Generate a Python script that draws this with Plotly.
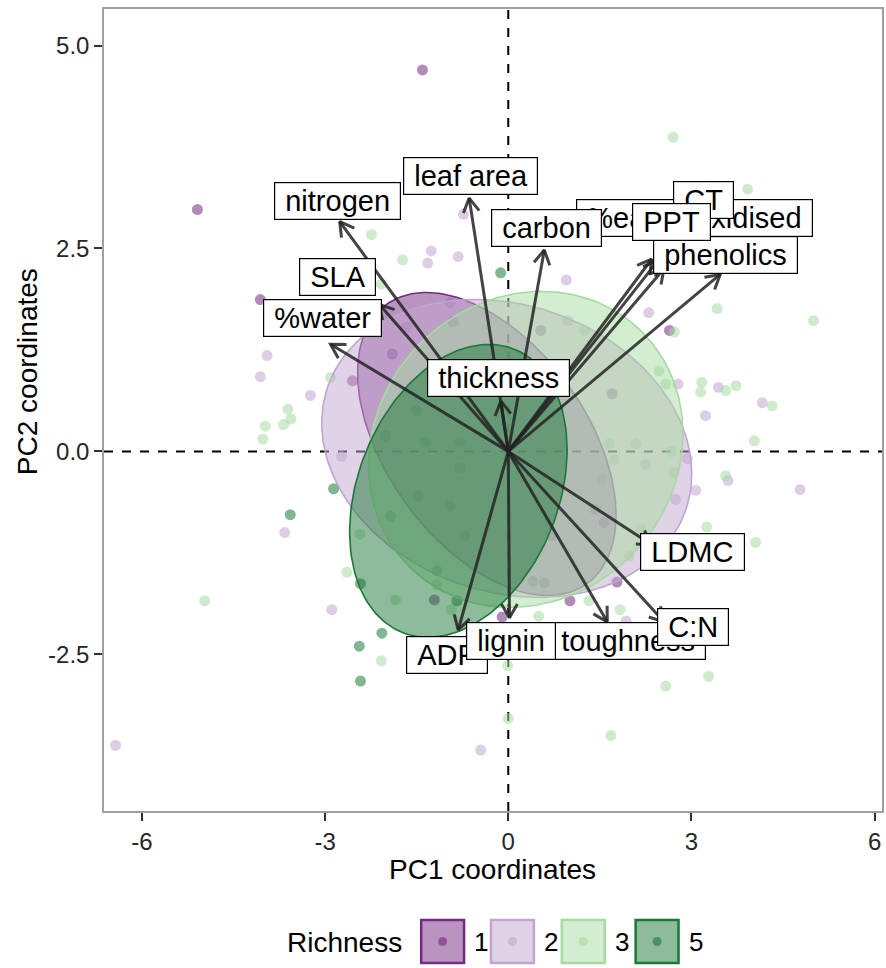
import numpy as np
import plotly.graph_objects as go

# ---------------- data ----------------
richness = ["1", "2", "3", "5"]
colors = ["#762a83", "#c2a5cf", "#a6dba0", "#1b7837"]

g1_x = [-1.405, -5.09, -4.06, 2.64, 1.78, 1.01, -0.10, -1.21, -2.55, -1.9, -1.5, 0.53, 1.57, 1.42, 1.70, 0.72, -0.9]
g1_y = [4.70, 2.98, 1.87, 1.49, -1.61, -1.84, -2.04, -1.83, 0.87, 1.2, 0.5, 1.49, -0.88, -0.71, 0.71, -1.04, 1.6]

g2_x = [-0.735, -1.26, -1.32, -0.82, -3.95, -4.06, -3.24, 0.95, 2.30, 2.78, 3.44, 4.16, 3.23, 3.60, 4.78,
        3.07, 2.74, 2.93, 1.93, -2.73, -3.66, -2.89, -6.43, -0.45, -1.67, -0.95, 0.98, 1.54, 2.25]
g2_y = [2.92, 2.47, 2.32, 2.40, 1.18, 0.92, 0.69, 2.11, 1.71, 0.83, 0.79, 0.60, 0.44, -0.36, -0.47,
        -0.48, -0.59, -0.09, -2.09, -0.06, -1.00, -1.95, -3.62, -3.68, 1.53, 1.83, 1.61, -0.34, -0.16]

g3_x = [-2.24, -1.73, -2.08, -2.91, 2.70, 3.92, 3.42, 2.72, 5.00, 3.17, 3.15, 3.56, 3.73, 4.32, 4.03, 3.56,
        3.25, 4.05, 1.32, 1.83, 0.50, 3.28, 2.58, 1.68, 0.00, -0.01, -3.61, -3.98, -3.68, -3.56, -4.02,
        -4.97, -2.64, -2.08, -1.85, -1.17, -0.93, -2.43, 2.71, 2.67, 1.65, 2.17, 1.98, 2.47, 2.58, 1.25,
        2.09, 1.73]
g3_y = [2.67, 2.36, 2.06, 0.91, 3.87, 3.23, 1.76, 1.47, 1.61, 0.85, 0.73, 0.75, 0.81, 0.56, 0.13, -0.30,
        -0.93, -1.12, -1.84, -1.95, -2.03, -2.77, -2.89, -3.50, -3.29, -2.64, 0.52, 0.31, 0.33, 0.40, 0.15,
        -1.84, -1.49, -2.58, -1.83, -1.64, -1.95, -1.02, -0.26, 0.00, 0.09, -0.96, -1.29, 0.99, 0.83, 1.49,
        0.09, -0.10]

g5_x = [-0.125, -2.86, -3.57, -2.42, -2.07, -2.44, -2.42, -1.17, -1.93, -1.47, -0.95, -0.79, -1.36, -0.79,
        -0.71, 0.40, 0.59, -0.84, -2.01]
g5_y = [2.20, -0.46, -0.78, -1.63, -2.24, -2.40, -2.83, -1.47, -0.80, -0.55, -0.67, -0.20, 0.11, 0.11,
        -1.04, -1.60, -1.62, -1.84, 0.19]

pts_x = [g1_x, g2_x, g3_x, g5_x]
pts_y = [g1_y, g2_y, g3_y, g5_y]

# confidence ellipses: centre, half-width, half-height, correlation
ell_cx = [-0.351, -0.025, 0.286, -0.817]
ell_cy = [0.092, 0.037, 0.025, -0.486]
ell_hx = [2.116, 3.03, 2.574, 1.781]
ell_hy = [1.866, 1.835, 1.946, 1.804]
ell_r = [-0.47, -0.17, 0.10, 0.28]

# variable loadings (arrow tips) and label positions
var_names = ["ADP", "toughness", "lignin", "C:N", "LDMC", "thickness", "SLA", "%water", "nitrogen",
             "leaf area", "%easily oxidised", "phenolics", "CT", "PPT", "carbon"]
var_x = [-0.82, 1.62, 0.02, 2.55, 2.35, -0.12, -2.11, -2.91, -2.76, -0.64, 2.55, 3.47, 2.45, 2.35, 0.59]
var_y = [-2.20, -2.10, -2.05, -2.10, -1.15, 0.62, 1.81, 1.32, 2.83, 3.12, 2.25, 2.18, 2.35, 2.37, 2.48]
lab_x = [-1.01, 1.96, 0.05, 3.03, 3.01, -0.155, -2.79, -3.04, -2.80, -0.62, 3.056, 3.55, 3.19, 2.68, 0.62]
lab_y = [-2.51, -2.34, -2.34, -2.16, -1.24, 0.905, 2.15, 1.64, 3.08, 3.39, 2.876, 2.42, 3.10, 2.82, 2.75]

x_ticks = [-6, -3, 0, 3, 6]
y_ticks = [5.0, 2.5, 0.0, -2.5]
y_ticklabels = ["5.0", "2.5", "0.0", "-2.5"]

# ---------------- layout constants ----------------
W, H = 886, 968
ML, MR, MT, MB = 104, 2, 9, 157
XR = [-6.62, 6.12]
YR = [-4.43, 5.45]
PW, PH = W - ML - MR, H - MT - MB
sx = PW / (XR[1] - XR[0])
sy = PH / (YR[1] - YR[0])
FONT = "Liberation Sans, Arial, sans-serif"


def rgba(hexc, a):
    h = hexc.lstrip("#")
    return "rgba(%d,%d,%d,%.3f)" % (int(h[0:2], 16), int(h[2:4], 16), int(h[4:6], 16), a)


def px2paper_x(px):
    return (px - ML) / PW


def px2paper_y(py):
    return (MT + PH - py) / PH


fig = go.Figure()

# points
for i, g in enumerate(richness):
    fig.add_trace(go.Scatter(
        x=pts_x[i], y=pts_y[i], mode="markers",
        marker=dict(size=11, color=rgba(colors[i], 0.55), line=dict(width=0)),
        showlegend=False, hoverinfo="skip"))

# ellipses
t = np.linspace(0, 2 * np.pi, 200)
for i, g in enumerate(richness):
    ex = ell_cx[i] + ell_hx[i] * np.cos(t)
    ey = ell_cy[i] + ell_hy[i] * (ell_r[i] * np.cos(t) + np.sqrt(1 - ell_r[i] ** 2) * np.sin(t))
    fig.add_trace(go.Scatter(
        x=ex, y=ey, mode="lines", fill="toself",
        fillcolor=rgba(colors[i], 0.5), line=dict(color=colors[i], width=1.6),
        showlegend=False, hoverinfo="skip"))

# arrows
ax_lines, ay_lines = [], []
L = 16.0
ang = np.deg2rad(30)
for vx, vy in zip(var_x, var_y):
    ax_lines += [0, vx, None]
    ay_lines += [0, vy, None]
    px, py = vx * sx, vy * sy
    n = np.hypot(px, py)
    ux, uy = px / n, py / n
    bxs, bys = [], []
    for s in (ang, -ang):
        rx = ux * np.cos(s) - uy * np.sin(s)
        ry = ux * np.sin(s) + uy * np.cos(s)
        bxs.append((px - L * rx) / sx)
        bys.append((py - L * ry) / sy)
    ax_lines += [bxs[0], vx, bxs[1], None]
    ay_lines += [bys[0], vy, bys[1], None]
fig.add_trace(go.Scatter(x=ax_lines, y=ay_lines, mode="lines",
                         line=dict(color="rgba(35,35,35,0.85)", width=3),
                         showlegend=False, hoverinfo="skip"))

# labels
for name, lx, ly in zip(var_names, lab_x, lab_y):
    fig.add_annotation(x=lx, y=ly, text="\u00a0" + name + "\u00a0", showarrow=False,
                       font=dict(family=FONT, size=29, color="black"),
                       bgcolor="white", bordercolor="black", borderwidth=1.2, borderpad=2)

# reference lines
fig.add_shape(type="line", x0=0, x1=0, y0=YR[0], y1=YR[1], layer="below",
              line=dict(color="black", width=2, dash="dash"))
fig.add_shape(type="line", x0=XR[0], x1=XR[1], y0=0, y1=0, layer="below",
              line=dict(color="black", width=2, dash="dash"))

# legend (ggplot-style keys)
key_left = [422, 492, 563, 637]
key_top, key_size = 920, 43
fig.add_annotation(xref="paper", yref="paper", x=px2paper_x(405), y=px2paper_y(942),
                   xanchor="right", yanchor="middle", text="Richness", showarrow=False,
                   font=dict(family=FONT, size=28, color="black"))
for i, g in enumerate(richness):
    x0, x1 = key_left[i], key_left[i] + key_size
    fig.add_shape(type="rect", xref="paper", yref="paper",
                  x0=px2paper_x(x0), x1=px2paper_x(x1),
                  y0=px2paper_y(key_top + key_size), y1=px2paper_y(key_top),
                  fillcolor=rgba(colors[i], 0.5), line=dict(color=colors[i], width=2.5))
    cx, cy = (x0 + x1) / 2, key_top + key_size / 2
    fig.add_shape(type="circle", xref="paper", yref="paper",
                  x0=px2paper_x(cx - 4.5), x1=px2paper_x(cx + 4.5),
                  y0=px2paper_y(cy + 4.5), y1=px2paper_y(cy - 4.5),
                  fillcolor=rgba(colors[i], 0.6), line=dict(width=0))
    fig.add_annotation(xref="paper", yref="paper", x=px2paper_x(x1 + 8), y=px2paper_y(942),
                       xanchor="left", yanchor="middle", text=g, showarrow=False,
                       font=dict(family=FONT, size=26, color="black"))

# axis titles
fig.add_annotation(xref="paper", yref="paper", x=px2paper_x(493), y=px2paper_y(869),
                   xanchor="center", yanchor="middle", text="PC1 coordinates", showarrow=False,
                   font=dict(family=FONT, size=28, color="black"))
fig.add_annotation(xref="paper", yref="paper", x=px2paper_x(28), y=px2paper_y(372),
                   xanchor="center", yanchor="middle", text="PC2 coordinates", showarrow=False,
                   textangle=-90, font=dict(family=FONT, size=28, color="black"))

axis_common = dict(showgrid=False, zeroline=False, showline=True, mirror=True,
                   linecolor="#a0a0a0", linewidth=1.5, ticks="outside", ticklen=8,
                   tickwidth=1.5, tickcolor="#333333",
                   tickfont=dict(family=FONT, size=24, color="#262626"))

fig.update_layout(
    width=W, height=H, margin=dict(l=ML, r=MR, t=MT, b=MB),
    plot_bgcolor="white", paper_bgcolor="white", showlegend=False,
    xaxis=dict(range=XR, tickvals=x_ticks, ticktext=[str(v) for v in x_ticks], **axis_common),
    yaxis=dict(range=YR, tickvals=y_ticks, ticktext=y_ticklabels, **axis_common),
)

fig.write_html("out.html")
